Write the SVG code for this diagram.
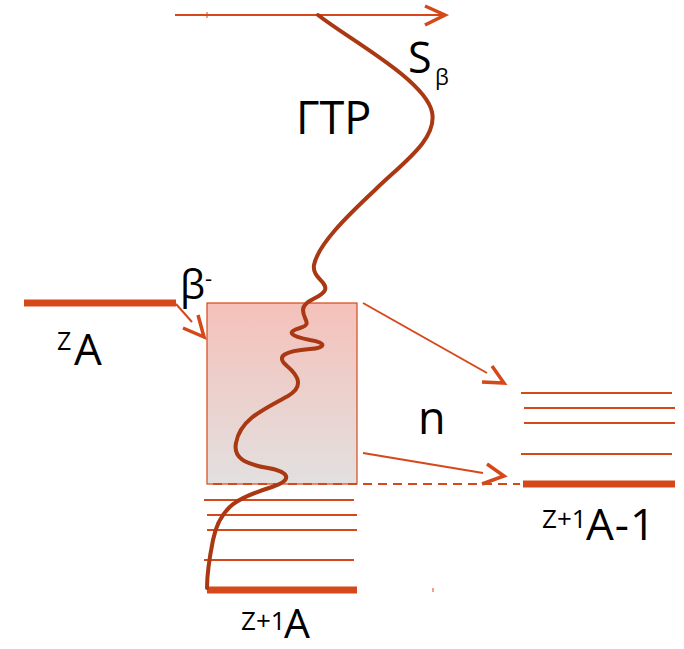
<svg xmlns="http://www.w3.org/2000/svg" width="684" height="649" viewBox="0 0 684 649">
<style>
.ln{stroke:#d5481a;fill:none;stroke-width:2}
.thick{stroke:#d5481a;fill:none;stroke-width:7}
.ah{stroke:#d5481a;fill:none;stroke-width:3.5;stroke-linejoin:miter}
.wave{stroke:#a93813;fill:none;stroke-width:4;stroke-linecap:round}
text{font-family:"Open Sans","Liberation Sans",sans-serif;fill:#000}
</style>
<defs>
<linearGradient id="g" x1="0" y1="0" x2="0" y2="1">
<stop offset="0" stop-color="#f5c1ba"/>
<stop offset="1" stop-color="#e2e0df"/>
</linearGradient>
</defs>
<g id="initial-level">
<line class="thick" x1="24" y1="303" x2="176" y2="303"/>
<text x="57" y="350" font-size="25">Z</text>
<text x="74" y="365" font-size="44">A</text>
</g>
<g id="excited-box">
<rect x="207" y="303" width="150" height="181" fill="url(#g)" stroke="#d5481a" stroke-width="1.2"/>
</g>
<g id="daughter-levels">
<line class="ln" x1="204" y1="500" x2="354" y2="500"/>
<line class="ln" x1="207" y1="515" x2="357" y2="515"/>
<line class="ln" x1="207" y1="530" x2="357" y2="530"/>
<line class="ln" x1="204" y1="560" x2="354" y2="560"/>
<line class="thick" x1="207" y1="590" x2="357" y2="590"/>
<text x="241" y="630" font-size="26">Z+1</text>
<text x="284" y="638" font-size="41">A</text>
</g>
<g id="neutron-levels">
<line class="ln" x1="521" y1="393" x2="672" y2="393"/>
<line class="ln" x1="524" y1="408" x2="675" y2="408"/>
<line class="ln" x1="524" y1="423" x2="675" y2="423"/>
<line class="ln" x1="521" y1="454" x2="672" y2="454"/>
<line class="thick" x1="523" y1="484" x2="675" y2="484"/>
<text x="542" y="528" font-size="26">Z+1</text>
<text x="586" y="540" font-size="44" letter-spacing="1">A-1</text>
</g>
<g id="labels">
<text x="408" y="73" font-size="43">S</text>
<text x="435" y="85" font-size="22">β</text>
<text x="296" y="134" font-size="45">ГТР</text>
<text x="180" y="299" font-size="40">β</text>
<text x="205" y="286" font-size="22">-</text>
<text x="418" y="434" font-size="45">n</text>
</g>
<g id="connectors">
<line class="ln" x1="175" y1="15" x2="446" y2="15"/>
<line x1="207" y1="12" x2="207" y2="18" stroke="#d5481a" stroke-width="1"/>
<polyline class="ah" points="425,6 445,15 425,25"/>
<line class="ln" x1="176" y1="304" x2="192" y2="322" stroke-width="1.5"/>
<polyline class="ah" points="183,328 204,337 198,315"/>
<line class="ln" x1="363" y1="303" x2="487" y2="373" stroke-width="1.8"/>
<polyline class="ah" points="482,382 504,383 492,366"/>
<line class="ln" x1="363" y1="453" x2="483" y2="473" stroke-width="1.8"/>
<polyline class="ah" points="482,484 504,476 487,464"/>
<line class="ln" x1="213" y1="484" x2="520" y2="484" stroke-dasharray="9,6"/>
<line x1="433" y1="588" x2="433" y2="592" stroke="#d5481a" stroke-width="1"/>
<path class="wave" d="M318,15 C350,40 425,80 432,112 C438,140 400,165 375,190 C345,218 318,245 314,265 C312,278 328,282 325,290 C322,298 303,300 303,310 C303,320 313,324 300,328 C286,332 290,336 310,340 C328,343 325,348 310,349 C285,351 275,356 287,366 C300,377 303,387 288,396 C262,410 240,420 236,443 C233,458 245,464 268,468 C290,472 293,480 272,487 C240,497 220,505 213,540 C209,560 207,575 207,588"/>
</g>
</svg>
